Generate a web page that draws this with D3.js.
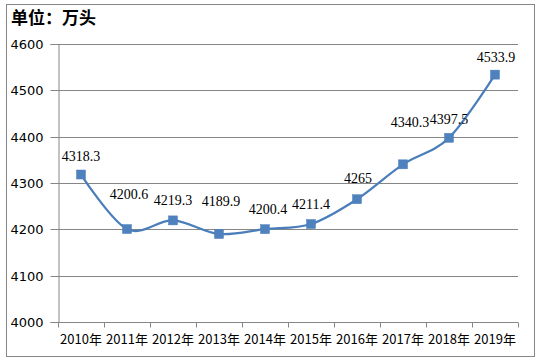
<!DOCTYPE html>
<html><head><meta charset="utf-8">
<script src="https://cdn.jsdelivr.net/npm/d3@7"></script>
<style>body{margin:0;background:#fff}svg{display:block}</style>
</head><body>
<svg id="c" width="544" height="363"></svg>
<script>
const years = ["2010年","2011年","2012年","2013年","2014年","2015年","2016年","2017年","2018年","2019年"];
const values = [4318.3,4200.6,4219.3,4189.9,4200.4,4211.4,4265,4340.3,4397.5,4533.9];
const valueLabels = ["4318.3","4200.6","4219.3","4189.9","4200.4","4211.4","4265","4340.3","4397.5","4533.9"];
const yTicks = [4000,4100,4200,4300,4400,4500,4600];
const title = "单位：万头";
// label offsets (dx, dy) relative to point, in px
const labelOffsets = [[0,-14],[2,-30],[0,-15],[2,-28],[3,-15],[0,-15],[1,-16],[7,-37],[0,-14],[1,-13]];

const svg = d3.select("#c");
const m = {l:58, r:518, t:44, b:322};
const x = d3.scaleBand().domain(years).range([m.l, m.r]);
const y = d3.scaleLinear().domain([4000,4600]).range([m.b, m.t]);
const grey = "#868686";

svg.append("rect").attr("x",6.5).attr("y",4.5).attr("width",528).attr("height",352)
  .attr("fill","none").attr("stroke",grey).attr("stroke-width",1);

svg.append("text").attr("x",11).attr("y",24).text(title)
  .attr("font-family","'Noto Sans CJK SC'").attr("font-weight","bold").attr("font-size",17).attr("fill","#000");

// gridlines
svg.append("g").selectAll("line").data(yTicks.filter(d=>d>4000)).join("line")
  .attr("x1",m.l).attr("x2",m.r).attr("y1",d=>Math.round(y(d))+0.5).attr("y2",d=>Math.round(y(d))+0.5)
  .attr("stroke",grey).attr("stroke-width",1);

// y axis
const ya = svg.append("g").attr("transform",`translate(${m.l+0.5},0)`)
  .call(d3.axisLeft(y).tickValues(yTicks).tickSize(8).tickPadding(7).tickFormat(d3.format("d")));
ya.select(".domain").attr("stroke",grey);
ya.selectAll(".tick line").attr("stroke",grey);
ya.selectAll(".tick").attr("transform",d=>`translate(0,${Math.round(y(d))+0.5})`);
ya.selectAll("text").attr("font-family","'DejaVu Sans'").attr("font-size",13).attr("fill","#000");

// x axis
const xa = svg.append("g").attr("transform",`translate(0,${m.b+0.5})`)
  .call(d3.axisBottom(x).tickSize(0).tickPadding(12));
xa.select(".domain").attr("stroke",grey).attr("d",`M${m.l},0H${m.r}`);
xa.selectAll("text").attr("font-family","'Noto Sans CJK SC'").attr("font-size",13).attr("fill","#000");
xa.append("g").selectAll("line").data(d3.range(years.length+1)).join("line")
  .attr("x1",i=>Math.round(m.l + i*x.bandwidth())+0.5).attr("x2",i=>Math.round(m.l + i*x.bandwidth())+0.5)
  .attr("y1",0).attr("y2",5).attr("stroke",grey);

const cx = d => x(d) + x.bandwidth()/2;
const pts = years.map((d,i)=>[cx(d), y(values[i])]);

svg.append("path").datum(pts)
  .attr("d", d3.line().curve(d3.curveCatmullRom.alpha(0)))
  .attr("fill","none").attr("stroke","#4a7ebb").attr("stroke-width",2.25);

svg.append("g").selectAll("rect").data(pts).join("rect")
  .attr("x",d=>d[0]-4.5).attr("y",d=>d[1]-4.5).attr("width",9).attr("height",9)
  .attr("fill","#4f81bd").attr("stroke","#4a7ebb").attr("stroke-width",0.5);

svg.append("g").selectAll("text").data(pts).join("text")
  .attr("x",(d,i)=>d[0]+labelOffsets[i][0]).attr("y",(d,i)=>d[1]+labelOffsets[i][1])
  .attr("text-anchor","middle").attr("font-family","'Liberation Serif'").attr("font-size",14).attr("fill","#000")
  .text((d,i)=>valueLabels[i]);
</script>
</body></html>
